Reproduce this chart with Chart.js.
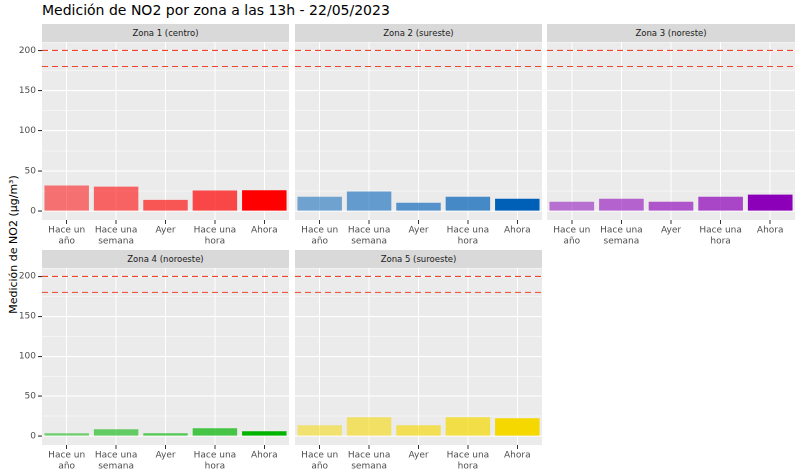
<!DOCTYPE html>
<html><head><meta charset="utf-8">
<script src="https://cdn.jsdelivr.net/npm/chart.js@4"></script>
<style>
body{margin:0;width:800px;height:475px;background:#fff;font-family:"DejaVu Sans",sans-serif;position:relative;overflow:hidden}
.title{position:absolute;left:42px;top:2px;font-size:14px;color:#000}
.strip{position:absolute;height:18px;background:#d9d9d9;font-size:8.5px;color:#1a1a1a;text-align:center;line-height:18px}
.ylab{position:absolute;left:-62px;top:238px;width:150px;text-align:center;transform:rotate(-90deg);font-size:11px;color:#000}
canvas{position:absolute}
</style></head><body>
<div class="title">Medición de NO2 por zona a las 13h - 22/05/2023</div>
<div class="ylab">Medición de NO2 (µg/m³)</div>
<script>
const categories=[["Hace un","año"],["Hace una","semana"],["Ayer"],["Hace una","hora"],["Ahora"]];
const zoneNames=["Zona 1 (centro)","Zona 2 (sureste)","Zona 3 (noreste)","Zona 4 (noroeste)","Zona 5 (suroeste)"];
const zone1=[32,30.5,14,25.7,26];
const zone2=[18,24.4,10.5,18,15.5];
const zone3=[11.7,15.5,11.7,18,20.6];
const zone4=[3.7,8.7,3.7,10,6.2];
const zone5=[13.7,23.7,13.7,23.7,22.5];
const refLines=[200,180];
const yTicks=[0,25,50,75,100,125,150,175,200];
const zoneColors=["255,0,0","0,96,184","139,0,184","0,180,0","245,216,0"];
const alphas=[0.52,0.58,0.64,0.7,1];
const zones=[zone1,zone2,zone3,zone4,zone5];

const cols=[[42,289],[295,542],[547,795]];
const rows=[[24,42,220],[250,268,445]];
const TOPPAD=7;
const refPlugin={id:'ref',afterDatasetsDraw(c){const{ctx,chartArea:a,scales:{y}}=c;ctx.save();ctx.strokeStyle='#F0452C';ctx.lineWidth=1.1;ctx.setLineDash([6,4]);
refLines.forEach(v=>{const p=y.getPixelForValue(v);ctx.beginPath();ctx.moveTo(a.left,p);ctx.lineTo(a.right,p);ctx.stroke();});ctx.restore();}};
const bgPlugin={id:'bg',beforeDraw(c){const{ctx,chartArea:a}=c;ctx.save();ctx.fillStyle='#ebebeb';ctx.fillRect(a.left,a.top,a.right-a.left,a.bottom-a.top);ctx.restore();}};

zones.forEach((vals,i)=>{
  const col=i%3,row=Math.floor(i/3);
  const [l,r]=cols[col];const [st,pt,pb]=rows[row];
  const s=document.createElement('div');s.className='strip';s.style.left=l+'px';s.style.top=st+'px';s.style.width=(r-l)+'px';s.textContent=zoneNames[i];document.body.appendChild(s);
  const yw=col===0?42:0;
  const cv=document.createElement('canvas');
  const W=(r-l)+yw,H=(pb-pt)+30+TOPPAD;
  cv.style.width=W+'px';cv.style.height=H+'px';
  document.body.appendChild(cv);
  new Chart(cv,{type:'bar',
    data:{labels:categories,datasets:[{data:vals,backgroundColor:alphas.map(a=>`rgba(${zoneColors[i]},${a})`),categoryPercentage:1,barPercentage:0.9}]},
    options:{responsive:false,devicePixelRatio:2,animation:false,maintainAspectRatio:false,
      layout:{padding:0},
      plugins:{legend:{display:false},tooltip:{enabled:false}},
      scales:{
        x:{border:{display:false},grid:{color:'#fff',lineWidth:1,tickColor:'#333',tickLength:4,offset:false},
          ticks:{color:'#4d4d4d',font:{size:9,family:'DejaVu Sans'},padding:1,maxRotation:0,autoSkip:false},
          afterFit(s){s.height=30;}},
        y:{min:-11,max:210,border:{display:false},
          afterBuildTicks(s){s.ticks=yTicks.map(v=>({value:v}));},
          grid:{color:'#fff',lineWidth:c=>c.tick&&c.tick.value%50===0?1.1:0.5,tickColor:c=>c.tick&&c.tick.value%50===0&&col===0?'#333':'rgba(0,0,0,0)',tickLength:4},
          ticks:{display:true,color:col===0?'#4d4d4d':'rgba(0,0,0,0)',font:{size:9,family:'DejaVu Sans'},padding:2,callback:v=>v%50===0?v:''},
          afterFit(s){s.width=yw;}}
      }},
    plugins:[bgPlugin,refPlugin]});
  cv.style.left=(l-yw)+'px';cv.style.top=(pt-TOPPAD)+'px';
});
</script></body></html>
